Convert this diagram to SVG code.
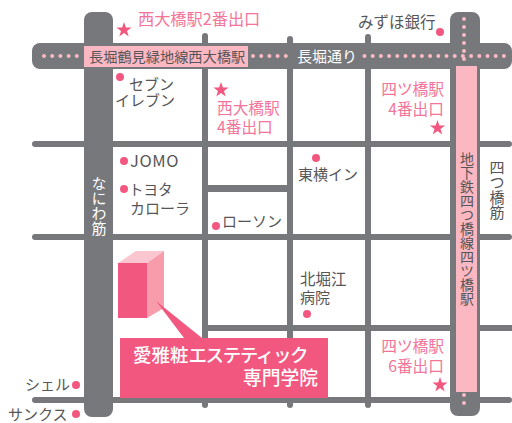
<svg xmlns="http://www.w3.org/2000/svg" width="512" height="423" viewBox="0 0 512 423">
<style>
text{font-family:"Noto Sans CJK JP","Liberation Sans",sans-serif;font-weight:400;font-size:15px;fill:#565658}
.p{fill:#f3759a;font-size:15.7px}
.w{fill:#fff}
.r{fill:#77787b}
.d{fill:#f2587f}
.m{fill:none;stroke:#fbb9c4;stroke-width:4;stroke-linecap:round;stroke-dasharray:0 8.2}
.v{writing-mode:vertical-rl;text-orientation:upright}
</style>
<defs>
<path id="s" d="M0-8 1.9-2.5 7.6-2.5 3 1 4.7 6.5 0 3.1-4.7 6.5-3 1-7.6-2.5-1.9-2.5Z" class="d"/>
</defs>
<g id="roads">
<rect class="r" x="32" y="141" width="480" height="6" rx="3"/>
<rect class="r" x="32" y="234" width="480" height="6" rx="3"/>
<rect class="r" x="32" y="397" width="480" height="6" rx="3"/>
<rect class="r" x="205" y="325" width="307" height="6"/>
<rect class="r" x="205" y="185" width="85" height="7"/>
<rect class="r" x="202" y="33" width="6" height="375" rx="3"/>
<rect class="r" x="287" y="36" width="6" height="372" rx="3"/>
<rect class="r" x="365" y="34" width="6" height="374" rx="3"/>
<rect class="r" x="84" y="12" width="29" height="405" rx="8"/>
<rect class="r" x="450" y="12" width="30" height="404" rx="8"/>
<rect class="r" x="32" y="43" width="480" height="26" rx="8"/>
</g>
<g id="subway">
<path class="m" d="M44 56H84M253 56H292M364.5 56H505"/>
<path class="m" d="M464 19V62M464 395V404" style="stroke-dasharray:0 8"/>
<rect x="456" y="66" width="21" height="326" fill="#fcb8c2"/>
<rect x="84" y="46" width="164" height="21" fill="#fcb8c2"/>
</g>
<g id="labels-road">
<text x="89" y="62" style="font-size:14.2px">長堀鶴見緑地線西大橋駅</text>
<text class="w" x="297" y="62" style="font-size:15px">長堀通り</text>
<text class="w v" x="99" y="176" style="font-size:15px">なにわ筋</text>
<text class="v" x="467" y="152" style="font-size:14px">地下鉄四つ橋線四ツ橋駅</text>
<text class="v" x="497" y="160" style="font-size:15px">四つ橋筋</text>
</g>
<g id="school">
<polygon points="118,263 136,251 164,251 147,263" fill="#fbc6cf"/>
<polygon points="147,263 164,251 164,308 147,318" fill="#f89cab"/>
<rect x="118" y="263" width="29" height="55" class="d"/>
<polygon points="156,301 184,338 202,338" class="d"/>
<rect x="120" y="338" width="208" height="60" class="d"/>
<text class="w" x="133" y="362" style="font-size:18.5px;font-weight:500">愛雅粧<tspan letter-spacing="-1.4">エステティック</tspan></text>
<text class="w" x="318" y="385" text-anchor="end" style="font-size:18.8px;font-weight:500">専門学院</text>
</g>
<g id="exits">
<use href="#s" x="124" y="30"/><text class="p" x="138" y="25" style="font-size:16.2px">西大橋駅2番出口</text>
<use href="#s" x="221" y="90"/><text class="p" x="217" y="114">西大橋駅</text><text class="p" x="217" y="133">4番出口</text>
<use href="#s" x="437.5" y="128"/><text class="p" x="444" y="95" text-anchor="end">四ツ橋駅</text><text class="p" x="444" y="115" text-anchor="end">4番出口</text>
<use href="#s" x="440" y="385"/><text class="p" x="444" y="352" text-anchor="end">四ツ橋駅</text><text class="p" x="444" y="372" text-anchor="end">6番出口</text>
</g>
<g id="landmarks" class="d">
<circle cx="440" cy="32" r="4"/><text x="358" y="28" style="font-size:15.5px">みずほ銀行</text>
<circle cx="120" cy="77" r="4"/><text x="129" y="90">セブン</text><text x="115" y="106">イレブン</text>
<circle cx="124" cy="161" r="4"/><text x="130" y="167" style="font-size:16.5px" letter-spacing="0.6">JOMO</text>
<circle cx="124" cy="189" r="4"/><text x="129" y="195" style="font-size:14.5px">トヨタ</text><text x="130" y="214">カローラ</text>
<circle cx="216" cy="226" r="4"/><text x="222" y="227">ローソン</text>
<circle cx="316" cy="158" r="4"/><text x="298" y="180">東横イン</text>
<text x="300" y="285" style="font-size:15.5px">北堀江</text><text x="300" y="303">病院</text><circle cx="307" cy="314" r="4"/>
<text x="25" y="390">シェル</text><circle cx="76" cy="385" r="4"/>
<text x="8" y="420">サンクス</text><circle cx="76" cy="414" r="4"/>
</g>
</svg>
